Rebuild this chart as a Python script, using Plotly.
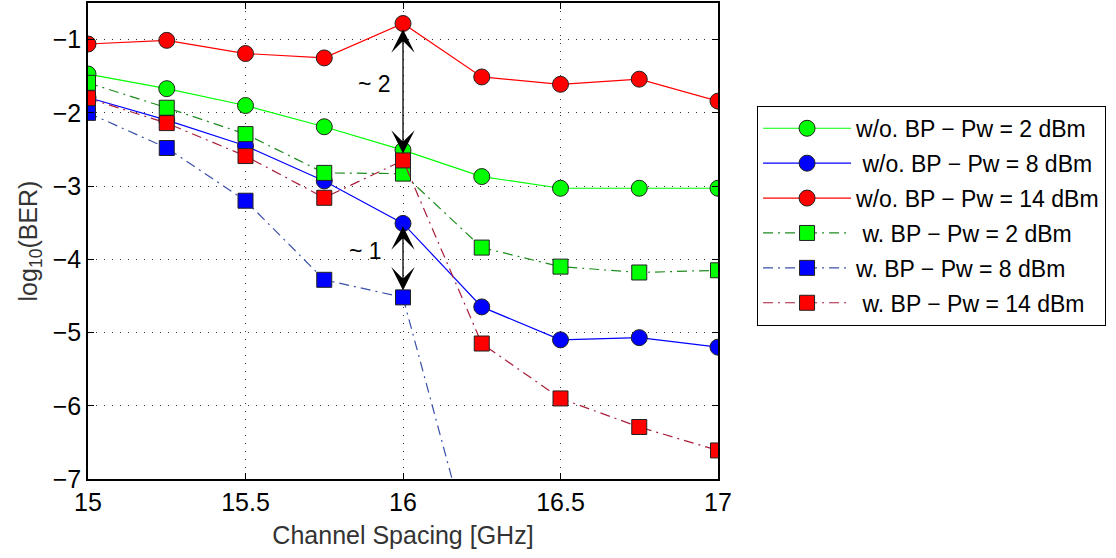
import plotly.graph_objects as go

x = [15, 15.25, 15.5, 15.75, 16, 16.25, 16.5, 16.75, 17]
x_w8 = [15, 15.25, 15.5, 15.75, 16, 16.25]

wo_2 = [-1.47, -1.67, -1.90, -2.19, -2.51, -2.87, -3.03, -3.03, -3.03]
wo_8 = [-1.79, -2.10, -2.45, -2.93, -3.51, -4.65, -5.10, -5.07, -5.20]
wo_14 = [-1.06, -1.01, -1.19, -1.25, -0.78, -1.51, -1.61, -1.54, -1.84]
w_2 = [-1.59, -1.93, -2.29, -2.82, -2.83, -3.84, -4.10, -4.18, -4.15]
w_8 = [-2.00, -2.48, -3.20, -4.28, -4.52, -8.50]
w_14 = [-1.80, -2.14, -2.59, -3.16, -2.65, -5.15, -5.90, -6.29, -6.61]

names = ["w/o. BP \u2212 Pw = 2 dBm", " w/o. BP \u2212 Pw = 8 dBm", "w/o. BP \u2212 Pw = 14 dBm",
         " w. BP \u2212 Pw = 2 dBm", "w. BP \u2212 Pw = 8 dBm", " w. BP \u2212 Pw = 14 dBm"]

xticks = [15, 15.5, 16, 16.5, 17]
yticks = [-7, -6, -5, -4, -3, -2, -1]

FONT = "Liberation Sans, Arial, sans-serif"
DASHDOT = "10px,5px,2px,5px"

series = [
    (x, wo_2, names[0], "#00FF00", "#00FF00", "solid", "circle"),
    (x, wo_8, names[1], "#0000FF", "#0000FF", "solid", "circle"),
    (x, wo_14, names[2], "#FF0000", "#FF0000", "solid", "circle"),
    (x, w_2, names[3], "#1E8C1E", "#00FF00", DASHDOT, "square"),
    (x_w8, w_8, names[4], "#3A50A8", "#0000FF", DASHDOT, "square"),
    (x, w_14, names[5], "#A81E3A", "#FF0000", DASHDOT, "square"),
]

fig = go.Figure()
for i, (xs, ys, nm, lc, mc, dash, sym) in enumerate(series):
    fig.add_trace(go.Scatter(
        x=xs, y=ys, name=nm, mode="lines+markers", legendgroup=f"g{i}",
        line=dict(color=lc, width=1.2, dash=dash),
        marker=dict(symbol=sym, size=16 if sym == "circle" else 15, color=mc,
                    line=dict(color="#222222", width=1)),
    ))

arrow_common = dict(xref="x", yref="y", axref="x", ayref="y", text=" ", showarrow=True,
                    arrowside="end+start", arrowhead=3, arrowsize=3, arrowwidth=1.3,
                    arrowcolor="black", standoff=0, startstandoff=0,
                    font=dict(size=2))
fig.add_annotation(x=16, y=-0.86, ax=16, ay=-2.59, **arrow_common)
fig.add_annotation(x=16, y=-3.55, ax=16, ay=-4.46, **arrow_common)
fig.add_annotation(x=15.91, y=-1.61, text="~ 2", showarrow=False, xref="x", yref="y",
                   font=dict(size=23, color="black", family=FONT))
fig.add_annotation(x=15.88, y=-3.89, text="~ 1", showarrow=False, xref="x", yref="y",
                   font=dict(size=23, color="black", family=FONT))

axis_common = dict(showline=True, linecolor="black", linewidth=1.5, mirror="ticks",
                   ticks="inside", ticklen=6, tickcolor="black", showgrid=True,
                   gridcolor="#333333", griddash="1px,7px", gridwidth=1.2, zeroline=False,
                   tickfont=dict(size=25, color="black", family=FONT))

fig.update_xaxes(range=[15, 17], tickvals=xticks, ticktext=[str(v) for v in xticks],
                 title=dict(text="Channel Spacing [GHz]", font=dict(size=25, color="#333333", family=FONT),
                            standoff=12), **axis_common)
fig.update_yaxes(range=[-7, -0.5], tickvals=yticks,
                 title=dict(text="log<sub>10</sub>(BER)", font=dict(size=25, color="#333333", family=FONT),
                            standoff=8), **axis_common)

fig.update_layout(
    width=1116, height=558,
    margin=dict(l=88, r=398, t=1, b=79),
    plot_bgcolor="white", paper_bgcolor="white",
    font=dict(family=FONT),
    legend=dict(x=1.062, y=0.784, xanchor="left", yanchor="top",
                bordercolor="black", borderwidth=1, bgcolor="white",
                font=dict(size=23, color="black", family=FONT),
                itemwidth=88, tracegroupgap=2),
)

fig.write_html("out.html")
